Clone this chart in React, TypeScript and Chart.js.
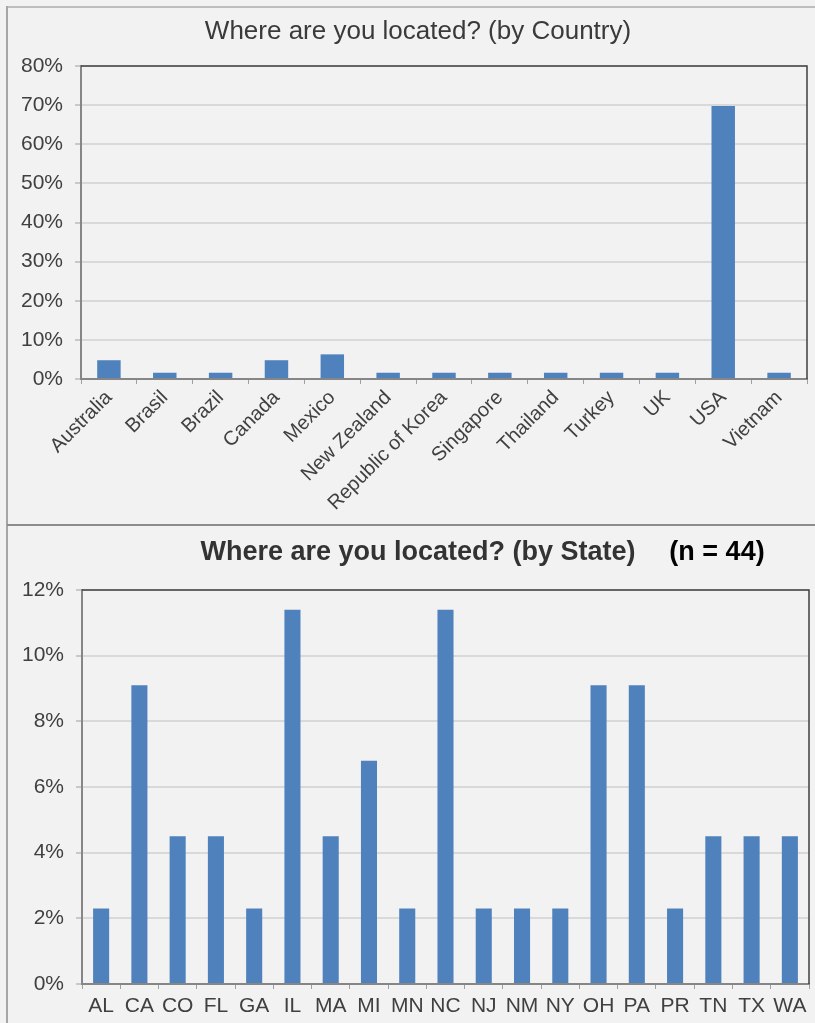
import React, { useEffect, useRef } from "react";
import { Chart, registerables } from "chart.js";

Chart.register(...registerables);

// Survey responses, share of respondents (%)
const countryLabels = [
  "Australia",
  "Brasil",
  "Brazil",
  "Canada",
  "Mexico",
  "New Zealand",
  "Republic of Korea",
  "Singapore",
  "Thailand",
  "Turkey",
  "UK",
  "USA",
  "Vietnam",
];
const countryShare = [4.8, 1.6, 1.6, 4.8, 6.3, 1.6, 1.6, 1.6, 1.6, 1.6, 1.6, 69.8, 1.6];

const stateLabels = [
  "AL", "CA", "CO", "FL", "GA", "IL", "MA", "MI", "MN", "NC",
  "NJ", "NM", "NY", "OH", "PA", "PR", "TN", "TX", "WA",
];
const stateShare = [
  2.3, 9.1, 4.5, 4.5, 2.3, 11.4, 4.5, 6.8, 2.3, 11.4,
  2.3, 2.3, 2.3, 9.1, 9.1, 2.3, 4.5, 4.5, 4.5,
];

const countryTitle = "Where are you located? (by Country)";
const stateTitle = "Where are you located? (by State)";
const stateCount = "(n = 44)";

const FONT = "'Liberation Sans', Arial, sans-serif";
const TEXT = "#404040";
const BAR = "#4f81bd";

type TitlePart = { text: string; x: number; y: number; size: number; bold?: boolean; color: string };

// Draws the panel heading(s) and the dark top/right edge of the plot box.
const panelDecor = {
  id: "panelDecor",
  afterDraw(chart: any, _args: any, opts: any) {
    const { ctx, chartArea: a } = chart;
    ctx.save();
    ctx.strokeStyle = "#3f3f3f";
    ctx.lineWidth = 1.5;
    ctx.beginPath();
    ctx.moveTo(a.left, a.top);
    ctx.lineTo(a.right, a.top);
    ctx.lineTo(a.right, a.bottom);
    ctx.stroke();
    const parts: TitlePart[] = (opts && opts.parts) || [];
    ctx.textAlign = "center";
    ctx.textBaseline = "middle";
    for (const p of parts) {
      ctx.font = `${p.bold ? "bold " : ""}${p.size}px ${FONT}`;
      ctx.fillStyle = p.color;
      ctx.fillText(p.text, p.x, p.y);
    }
    ctx.restore();
  },
};

function makeConfig(
  labels: string[],
  values: number[],
  yMax: number,
  yStep: number,
  rotate: boolean,
  pad: { top: number; right: number },
  yWidth: number,
  xHeight: number,
  parts: TitlePart[]
): any {
  return {
    type: "bar",
    data: {
      labels,
      datasets: [
        {
          data: values,
          backgroundColor: BAR,
          borderWidth: 0,
          barPercentage: 0.42,
          categoryPercentage: 1,
        },
      ],
    },
    options: {
      responsive: false,
      animation: false,
      events: [],
      layout: { padding: { top: pad.top, right: pad.right, bottom: 0, left: 0 } },
      plugins: {
        legend: { display: false },
        tooltip: { enabled: false },
        title: { display: false },
        panelDecor: { parts },
      },
      scales: {
        x: {
          grid: {
            offset: true,
            drawOnChartArea: false,
            drawTicks: true,
            tickLength: 5,
            color: "#a0a0a0",
            lineWidth: 1,
          },
          border: { color: "#868686", width: 2 },
          ticks: {
            autoSkip: false,
            maxRotation: rotate ? 45 : 0,
            minRotation: rotate ? 45 : 0,
            padding: rotate ? 2 : 5,
            color: TEXT,
            font: { family: FONT, size: rotate ? 20 : 21 },
          },
          afterFit: (s: any) => {
            s.height = xHeight;
          },
        },
        y: {
          min: 0,
          max: yMax,
          grid: {
            color: "#d9d9d9",
            lineWidth: 2,
            tickLength: 6,
            tickColor: "#c8c8c8",
          },
          border: { color: "#868686", width: 2 },
          ticks: {
            stepSize: yStep,
            padding: 12,
            color: TEXT,
            font: { family: FONT, size: 21 },
            callback: (v: any) => `${v}%`,
          },
          afterFit: (s: any) => {
            s.width = yWidth;
          },
        },
      },
    },
    plugins: [panelDecor],
  };
}

function BarPanel(props: {
  left: number;
  top: number;
  width: number;
  height: number;
  config: any;
}) {
  const ref = useRef<HTMLCanvasElement | null>(null);
  useEffect(() => {
    if (!ref.current) return;
    const chart = new Chart(ref.current, props.config);
    return () => chart.destroy();
  }, []);
  return (
    <canvas
      ref={ref}
      width={props.width}
      height={props.height}
      style={{
        position: "absolute",
        left: props.left,
        top: props.top,
        width: props.width,
        height: props.height,
      }}
    />
  );
}

export default function App() {
  const countryConfig = makeConfig(
    countryLabels,
    countryShare,
    80,
    10,
    true,
    { top: 58, right: 8 },
    73,
    145,
    [{ text: countryTitle, x: 410, y: 24, size: 26, color: "#3a3a3a" }]
  );
  const stateConfig = makeConfig(
    stateLabels,
    stateShare,
    12,
    2,
    false,
    { top: 64, right: 6 },
    74,
    39,
    [
      { text: stateTitle, x: 410, y: 27, size: 27, bold: true, color: "#333333" },
      { text: stateCount, x: 709, y: 27, size: 27, bold: true, color: "#000000" },
    ]
  );
  return (
    <div
      style={{
        position: "absolute",
        left: 0,
        top: 0,
        width: 815,
        height: 1023,
        background: "#f2f2f2",
        overflow: "hidden",
      }}
    >
      <div style={{ position: "absolute", left: 7, top: 6, right: 0, height: 2, background: "#bdbdbd" }} />
      <div style={{ position: "absolute", left: 6, top: 6, width: 2, bottom: 0, background: "#a6a6a6" }} />
      <div style={{ position: "absolute", left: 7, top: 524, right: 0, height: 2, background: "#8c8c8c" }} />
      <BarPanel left={8} top={8} width={807} height={516} config={countryConfig} />
      <BarPanel left={8} top={526} width={807} height={497} config={stateConfig} />
    </div>
  );
}
